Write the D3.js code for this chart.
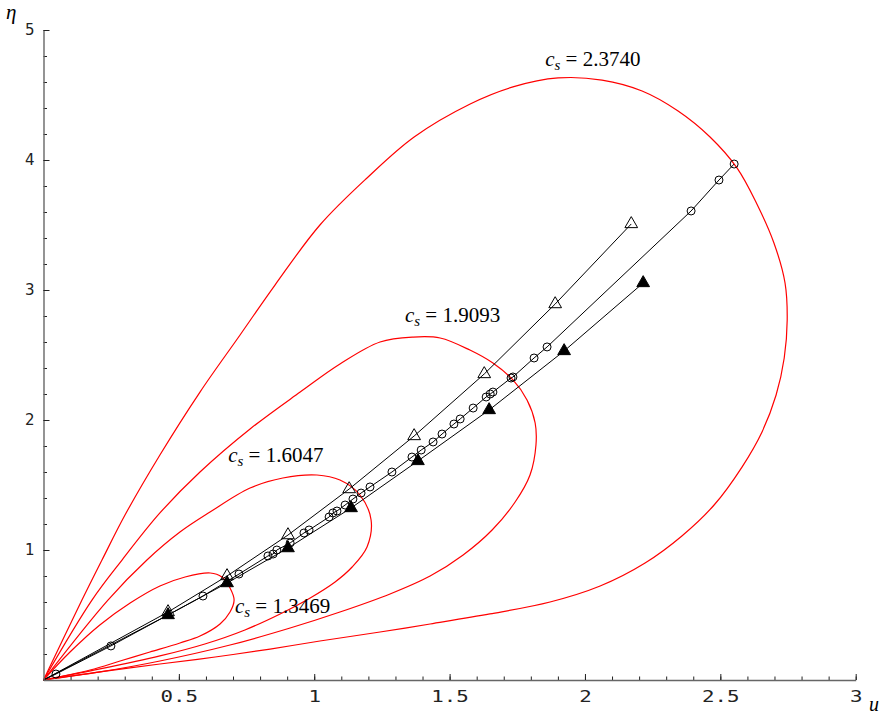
<!DOCTYPE html>
<html>
<head>
<meta charset="utf-8">
<script src="https://cdn.jsdelivr.net/npm/d3@7"></script>
<style>
  body { margin: 0; background: #fff; }
  svg { display: block; }
</style>
</head>
<body>
<svg id="chart" width="885" height="715"></svg>
<script>
'use strict';

// red loops, one per c_s, [u, eta]
var loopCs = ['1.3469', '1.6047', '1.9093', '2.3740'];

var loop1 = [[0, 0], [0.098, 0.215], [0.208, 0.423], [0.320, 0.592], [0.430, 0.723], [0.523, 0.792],
	[0.616, 0.823], [0.659, 0.792], [0.689, 0.708], [0.704, 0.615], [0.689, 0.523], [0.652, 0.431],
	[0.578, 0.338], [0.504, 0.285], [0.393, 0.215], [0.283, 0.146], [0.172, 0.077], [0, 0]];

var loop2 = [[0, 0], [0.238, 0.615], [0.382, 0.923], [0.504, 1.138], [0.615, 1.292], [0.763, 1.477],
	[0.884, 1.554], [1.010, 1.577], [1.095, 1.538], [1.169, 1.423], [1.210, 1.231], [1.195, 1.023],
	[1.140, 0.869], [1.077, 0.754], [0.985, 0.631], [0.874, 0.508], [0.744, 0.385], [0.596, 0.277],
	[0.430, 0.185], [0.209, 0.085], [0, 0]];

var loop3 = [[0, 0], [0.179, 0.615], [0.290, 0.923], [0.430, 1.285], [0.578, 1.600], [0.763, 1.931],
	[0.948, 2.215], [1.095, 2.431], [1.243, 2.600], [1.365, 2.638], [1.465, 2.631], [1.575, 2.538],
	[1.660, 2.438], [1.734, 2.308], [1.786, 2.154], [1.816, 1.977], [1.819, 1.808], [1.797, 1.577],
	[1.742, 1.369], [1.657, 1.154], [1.550, 0.962], [1.428, 0.800], [1.280, 0.662], [1.095, 0.523],
	[0.911, 0.400], [0.689, 0.269], [0.430, 0.146], [0.209, 0.062], [0, 0]];

var loop4 = [[0, 0], [0.142, 0.615], [0.216, 0.923], [0.301, 1.269], [0.430, 1.731], [0.578, 2.215],
	[0.726, 2.654], [0.855, 3.038], [1.021, 3.500], [1.195, 3.862], [1.369, 4.177], [1.576, 4.431],
	[1.734, 4.562], [1.901, 4.631], [2.063, 4.615], [2.211, 4.531], [2.344, 4.377], [2.462, 4.177],
	[2.562, 3.938], [2.635, 3.662], [2.698, 3.362], [2.739, 3.054], [2.747, 2.769], [2.736, 2.477],
	[2.706, 2.192], [2.654, 1.908], [2.580, 1.638], [2.477, 1.346], [2.358, 1.108], [2.222, 0.900],
	[2.056, 0.723], [1.871, 0.600], [1.649, 0.508], [1.428, 0.431], [1.243, 0.369], [1.021, 0.300],
	[0.837, 0.238], [0.634, 0.177], [0.430, 0.123], [0.209, 0.062], [0, 0]];

var loops = [loop1, loop2, loop3, loop4];

// black series
var circleU = [0.046, 0.249, 0.589, 0.722, 0.829, 0.848, 0.862, 0.911, 0.962, 0.981, 1.055, 1.069,
	1.084, 1.114, 1.143, 1.173, 1.206, 1.287, 1.361, 1.395, 1.439, 1.472, 1.516, 1.539, 1.587,
	1.635, 1.650, 1.660, 1.727, 1.734, 1.812, 1.860, 2.392, 2.495, 2.551];
var circleEta = [0.046, 0.262, 0.646, 0.815, 0.954, 0.969, 1.000, 1.054, 1.131, 1.154, 1.254, 1.285,
	1.300, 1.346, 1.392, 1.438, 1.485, 1.600, 1.715, 1.769, 1.831, 1.892, 1.969, 2.008, 2.092,
	2.177, 2.200, 2.215, 2.323, 2.331, 2.477, 2.562, 3.608, 3.846, 3.969];

var openU = [0.460, 0.678, 0.903, 1.129, 1.369, 1.628, 1.890, 2.171];
var openEta = [0.523, 0.800, 1.115, 1.469, 1.877, 2.354, 2.892, 3.508];

var filledU = [0.460, 0.678, 0.903, 1.136, 1.383, 1.646, 1.923, 2.215];
var filledEta = [0.500, 0.746, 1.015, 1.323, 1.685, 2.077, 2.531, 3.054];

// axes
var xMajor = [0.5, 1, 1.5, 2, 2.5, 3];
var xMinor = d3.range(1, 31).map(function (i) { return i / 10; });
var yMajor = [1, 2, 3, 4, 5];
var yMinor = d3.range(1, 26).map(function (i) { return i / 5; });

// label spots (u, eta of text start)
var labelU = [0.707, 0.682, 1.335, 1.853];
var labelEta = [0.515, 1.677, 2.754, 4.723];

var svg = d3.select('#chart');

var x = d3.scaleLinear().domain([0, 3]).range([43.5, 855.7]);
var y = d3.scaleLinear().domain([0, 5]).range([680, 30]);

function zip(a, b) {
	return a.map(function (v, i) { return [v, b[i]]; });
}

var line = d3.line()
	.x(function (d) { return x(d[0]); })
	.y(function (d) { return y(d[1]); });

// red loops
svg.append('g').selectAll('path')
	.data(loops)
	.enter().append('path')
	.attr('d', line.curve(d3.curveCatmullRom))
	.attr('fill', 'none')
	.attr('stroke', '#ff0000')
	.attr('stroke-width', 1.2);

line.curve(d3.curveLinear);

var series = [
	[[0, 0]].concat(zip(circleU, circleEta)),
	[[0, 0]].concat(zip(openU, openEta)),
	[[0, 0]].concat(zip(filledU, filledEta))
];

var black = svg.append('g');

series.forEach(function (s) {
	black.append('path')
		.attr('d', line(s))
		.attr('fill', 'none')
		.attr('stroke', '#000')
		.attr('stroke-width', 1);
});

black.selectAll('circle')
	.data(zip(circleU, circleEta))
	.enter().append('circle')
	.attr('cx', function (d) { return x(d[0]); })
	.attr('cy', function (d) { return y(d[1]); })
	.attr('r', 4)
	.attr('fill', 'none')
	.attr('stroke', '#000')
	.attr('stroke-width', 1);

var tri = d3.symbol().type(d3.symbolTriangle).size(70);

black.selectAll('path.open')
	.data(zip(openU, openEta))
	.enter().append('path')
	.attr('class', 'open')
	.attr('d', tri)
	.attr('transform', function (d) { return 'translate(' + x(d[0]) + ',' + y(d[1]) + ')'; })
	.attr('fill', 'none')
	.attr('stroke', '#000')
	.attr('stroke-width', 1);

black.selectAll('path.filled')
	.data(zip(filledU, filledEta))
	.enter().append('path')
	.attr('class', 'filled')
	.attr('d', tri)
	.attr('transform', function (d) { return 'translate(' + x(d[0]) + ',' + y(d[1]) + ')'; })
	.attr('fill', '#000')
	.attr('stroke', '#000')
	.attr('stroke-width', 1);

// x axis
var xAxis = svg.append('g').attr('transform', 'translate(0,680)');
xAxis.append('g')
	.call(d3.axisBottom(x).tickValues(xMinor).tickSize(-3.5).tickSizeOuter(0).tickFormat(''))
	.select('.domain').remove();
xAxis.append('g')
	.call(d3.axisBottom(x).tickValues(xMajor).tickSize(-6).tickSizeOuter(0).tickPadding(11)
		.tickFormat(d3.format('')));
xAxis.selectAll('.domain').attr('stroke', '#666').attr('stroke-width', 1.4);
xAxis.selectAll('.tick line').attr('stroke', '#222');
xAxis.selectAll('.tick text')
	.attr('font-family', '"DejaVu Sans Mono", monospace')
	.attr('font-size', 16)
	.attr('fill', '#222')
	.attr('dy', '0.71em')
	.attr('transform', 'scale(1.3,1)');

// y axis
var yAxis = svg.append('g').attr('transform', 'translate(43.5,0)');
yAxis.append('g')
	.call(d3.axisLeft(y).tickValues(yMinor).tickSize(-3.5).tickSizeOuter(0).tickFormat(''))
	.select('.domain').remove();
yAxis.append('g')
	.call(d3.axisLeft(y).tickValues(yMajor).tickSize(-6).tickSizeOuter(0).tickPadding(9)
		.tickFormat(d3.format('d')));
yAxis.selectAll('.domain').attr('stroke', '#666').attr('stroke-width', 1.4);
yAxis.selectAll('.tick line').attr('stroke', '#222');
yAxis.selectAll('.tick text')
	.attr('font-family', '"DejaVu Sans", sans-serif')
	.attr('font-size', 15)
	.attr('fill', '#222');

// axis names
svg.append('text')
	.attr('x', 869).attr('y', 711)
	.attr('font-family', '"Liberation Serif", serif')
	.attr('font-style', 'italic')
	.attr('font-size', 20)
	.text('u');
svg.append('text')
	.attr('x', 6).attr('y', 19)
	.attr('font-family', '"Liberation Serif", serif')
	.attr('font-style', 'italic')
	.attr('font-size', 21)
	.text('η');

// c_s labels
var labels = svg.append('g')
	.attr('font-family', '"Liberation Serif", serif')
	.attr('font-size', 21)
	.attr('fill', '#000');

loopCs.forEach(function (c, i) {
	var t = labels.append('text')
		.attr('x', x(labelU[i]))
		.attr('y', y(labelEta[i]));
	t.append('tspan').attr('font-style', 'italic').text('c');
	t.append('tspan').attr('font-style', 'italic').attr('font-size', 15).attr('dy', 4).text('s');
	t.append('tspan').attr('dy', -4).text(' = ' + c);
});
</script>
</body>
</html>
